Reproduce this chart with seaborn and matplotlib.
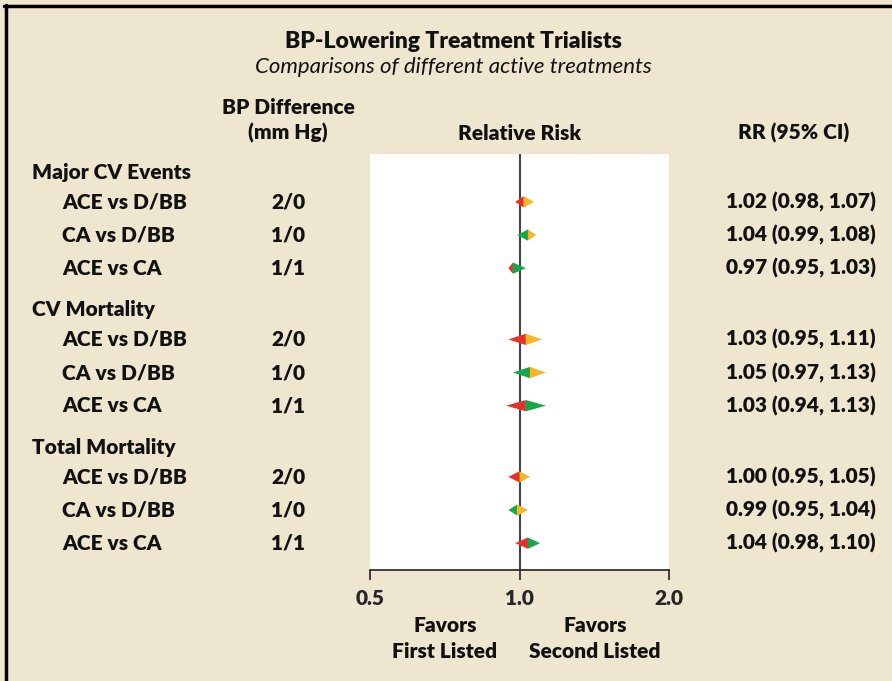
import numpy as np
import pandas as pd
import matplotlib
matplotlib.use("Agg")
import matplotlib.pyplot as plt
import matplotlib.transforms as mtransforms
from matplotlib.lines import Line2D
import seaborn as sns

# ---- data ----
groups = ["Major CV Events", "CV Mortality", "Total Mortality"]
comparisons = ["ACE vs D/BB", "CA vs D/BB", "ACE vs CA",
               "ACE vs D/BB", "CA vs D/BB", "ACE vs CA",
               "ACE vs D/BB", "CA vs D/BB", "ACE vs CA"]
bp_diff = ["2/0", "1/0", "1/1", "2/0", "1/0", "1/1", "2/0", "1/0", "1/1"]
rr = [1.02, 1.04, 0.97, 1.03, 1.05, 1.03, 1.00, 0.99, 1.04]
ci_low = [0.98, 0.99, 0.95, 0.95, 0.97, 0.94, 0.95, 0.95, 0.98]
ci_high = [1.07, 1.08, 1.03, 1.11, 1.13, 1.13, 1.05, 1.04, 1.10]
x_ticks = [0.5, 1.0, 2.0]
x_tick_labels = ["0.5", "1.0", "2.0"]

treatment_colors = {"ACE": "#E5312B", "D/BB": "#FBB424", "CA": "#15A84B"}
BG = "#EEE6CF"
FONT = ["Lato", "DejaVu Sans"]
FS = 15
WT = "heavy"

df = pd.DataFrame({
    "group": np.repeat(groups, 3),
    "comparison": comparisons,
    "bp": bp_diff,
    "rr": rr,
    "lo": ci_low,
    "hi": ci_high,
})
df["first"] = df["comparison"].str.split(" vs ").str[0]
df["second"] = df["comparison"].str.split(" vs ").str[1]
# layout: 3 rows per group, extra gap between groups
df["y"] = np.repeat(np.arange(3) * 4.15, 3) + np.tile(np.arange(3), 3)

sns.set_theme(style="white")
plt.rcParams["font.family"] = FONT
plt.rcParams["font.weight"] = WT

fig = plt.figure(figsize=(8.92, 6.81), dpi=100)
fig.patch.set_facecolor(BG)

W, H = 892.0, 681.0
ax = fig.add_axes([370 / W, 1 - 570 / H, (669 - 370) / W, (570 - 154) / H])
ax.set_facecolor("white")

# split diamonds: left half = first listed, right half = second listed
hh = 0.17
for _, r in df.iterrows():
    ax.fill([r["lo"], r["rr"], r["rr"]], [r["y"], r["y"] - hh, r["y"] + hh],
            color=treatment_colors[r["first"]], lw=0, zorder=3)
    ax.fill([r["rr"], r["hi"], r["rr"]], [r["y"] - hh, r["y"], r["y"] + hh],
            color=treatment_colors[r["second"]], lw=0, zorder=3)

ax.axvline(1.0, color="#444444", lw=1.5, zorder=2)

ax.set_xscale("log", base=2)
ax.set_xlim(0.5, 2.0)
ax.set_ylim(11.11, -1.446)
ax.set_xticks(x_ticks)
ax.set_xticklabels(x_tick_labels, fontsize=FS, fontweight=WT)
ax.xaxis.set_minor_locator(matplotlib.ticker.NullLocator())
ax.set_yticks([])
ax.tick_params(axis="x", direction="out", length=7, width=1.2, color="#222222",
               pad=7, bottom=True)
sns.despine(ax=ax, left=True, right=True, top=True)
ax.spines["bottom"].set_color("#222222")
ax.spines["bottom"].set_linewidth(1.2)
ax.set_xlabel("")
ax.set_ylabel("")

# text columns, y in data coords
tr = mtransforms.blended_transform_factory(fig.transFigure, ax.transData)
txt = dict(fontsize=FS, fontweight=WT, color="#111111", transform=tr,
           va="center")
for g, name in enumerate(groups):
    ax.text(32 / W, g * 4.15 - 0.9, name, ha="left", clip_on=False, **txt)
for _, r in df.iterrows():
    ax.text(62 / W, r["y"], r["comparison"], ha="left", clip_on=False, **txt)
    ax.text(288 / W, r["y"], r["bp"], ha="center", clip_on=False, **txt)
    ax.text(876 / W, r["y"],
            f"{r['rr']:.2f} ({r['lo']:.2f}, {r['hi']:.2f})",
            ha="right", clip_on=False, **txt)

# headers
def ftext(x, y, s, **kw):
    base = dict(ha="center", va="center", fontsize=FS, fontweight=WT,
                color="#111111")
    base.update(kw)
    fig.text(x / W, 1 - y / H, s, **base)

ftext(453, 42, "BP-Lowering Treatment Trialists", fontsize=16.5)
ftext(453, 67, "Comparisons of different active treatments", fontsize=16,
      fontweight="normal", style="italic")
ftext(288, 108, "BP Difference")
ftext(288, 133, "(mm Hg)")
ftext(520, 133, "Relative Risk")
ftext(794, 133, "RR (95% CI)")
ftext(445, 625, "Favors")
ftext(445, 651, "First Listed")
ftext(595, 625, "Favors")
ftext(595, 651, "Second Listed")

# frame lines (left and top)
fig.add_artist(Line2D([5.5 / W, 5.5 / W], [0, 1 - 5 / H], color="black",
                      lw=2.5, transform=fig.transFigure))
fig.add_artist(Line2D([4 / W, 1], [1 - 6 / H, 1 - 6 / H], color="black",
                      lw=2.5, transform=fig.transFigure))

fig.savefig("out.png", dpi=100, facecolor=BG)
